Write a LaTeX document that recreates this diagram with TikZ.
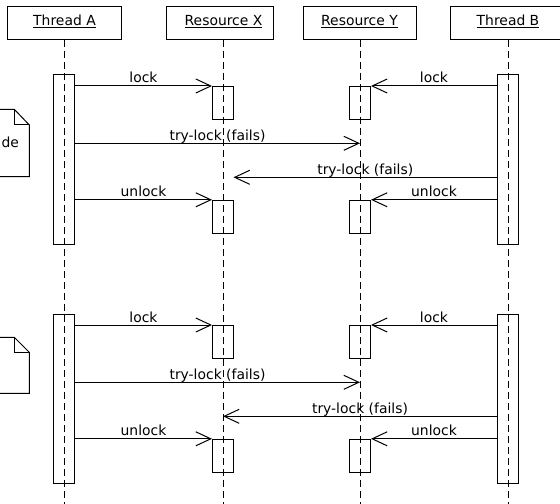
\documentclass[tikz,border=0pt]{standalone}
\usepackage{fontspec}
\setmainfont{DejaVu Sans}
\usetikzlibrary{arrows.meta}
\newcommand\ulbox[1]{\setbox0\hbox{#1}\rlap{\rule[-2bp]{\wd0}{0.9bp}}\box0}
\begin{document}
\begin{tikzpicture}[x=1bp,y=-1bp,line width=1bp,
  every node/.style={font=\fontsize{13.9bp}{16bp}\selectfont},
  head/.style={draw,fill=white,minimum height=33bp,inner sep=0pt,text height=10.5bp,text depth=5.5bp},
  life/.style={dash pattern=on 7bp off 4bp},
  act/.style={draw,fill=white,minimum width=21bp,inner sep=0pt},
  msg/.style={-{Straight Barb[length=15bp,width=14bp]}},
  lbl/.style={anchor=base,yshift=3bp,inner sep=0pt},
  notebox/.style={draw,fill=white,line join=miter}]
\useasboundingbox (0,0) rectangle (560,504);
% headers
\node[head,minimum width=113bp] (hA) at (64.5,23.5) {\ulbox{Thread A}};
\node[head,minimum width=107bp] (hX) at (219.5,23.5) {\hspace*{8bp}\ulbox{Resource X}};
\node[head,minimum width=113bp] (hY) at (359.5,23.5) {\ulbox{Resource Y}};
\node[head,minimum width=115bp] (hB) at (508,23.5) {\ulbox{Thread B}};
% notes (cut by left edge)
\path[notebox] (-30,109.3) -- (14.3,109.3) -- (29.3,125) -- (29.3,176.7) -- (-30,176.7) -- cycle;
\draw (14.3,109.3) -- (14.3,125) -- (29.3,125);
\node[anchor=base east,inner sep=0pt] (n1) at (19.5,148) {de};
\path[notebox] (-30,337.3) -- (14.3,337.3) -- (29.3,352.3) -- (29.3,393.3) -- (-30,393.3) -- cycle;
\draw (14.3,337.3) -- (14.3,352.3) -- (29.3,352.3);
% activations
\foreach \s/\d/\tx in {1/0/233.5, 2/239/223} {
  \node[act,minimum height=169bp] (aA\s) at (64,159.5+\d) {};
  \node[act,minimum height=169bp] (aB\s) at (508,159.5+\d) {};
  \node[act,minimum height=33bp] (xL\s) at (223,103+\d) {};
  \node[act,minimum height=33bp] (xU\s) at (223,216.8+\d) {};
  \node[act,minimum height=33bp] (yL\s) at (360,103+\d) {};
  \node[act,minimum height=33bp] (yU\s) at (360,216.8+\d) {};
  \coordinate (tA\s) at (360,143.3+\d);
  \coordinate (tB\s) at (\tx,177.3+\d);
}
% lifelines
\coordinate (sA) at (64,40);  \coordinate (eA) at (64,504);
\coordinate (sX) at (223,40); \coordinate (eX) at (223,504);
\coordinate (sY) at (360,40); \coordinate (eY) at (360,504);
\coordinate (sB) at (508,40); \coordinate (eB) at (508,504);
\draw[life] (sA) -- (eA);
\draw[life] (sX) -- (eX);
\draw[life] (sY) -- (eY);
\draw[life] (sB) -- (eB);
% messages
\foreach \s in {1,2} {
  \draw[msg] (aA\s.east |- xL\s.north) -- node[lbl] (lA\s) {lock} (xL\s.north west);
  \draw[msg] (aB\s.west |- yL\s.north) -- node[lbl] (lB\s) {lock} (yL\s.north east);
  \draw[msg] (aA\s.east |- tA\s) -- node[lbl] (tlA\s) {try-lock (fails)} (tA\s);
  \draw[msg] (aB\s.west |- tB\s) -- node[lbl] (tlB\s) {try-lock (fails)} (tB\s);
  \draw[msg] (aA\s.east |- xU\s.north) -- node[lbl] (uA\s) {unlock} (xU\s.north west);
  \draw[msg] (aB\s.west |- yU\s.north) -- node[lbl] (uB\s) {unlock} (yU\s.north east);
}
\end{tikzpicture}
\end{document}
